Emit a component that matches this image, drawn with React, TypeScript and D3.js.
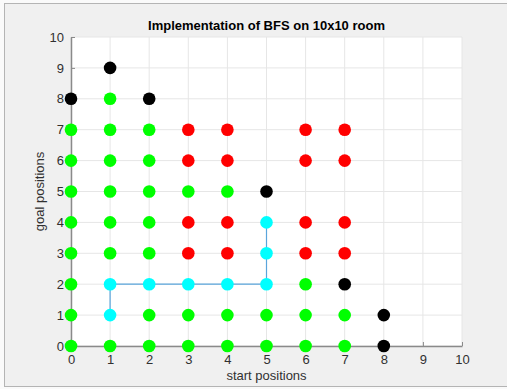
import React, { useEffect, useRef } from "react";
import * as d3 from "d3";

const W = 507;
const H = 389;
const margin = { left: 71, right: 45, top: 37, bottom: 43 };

// grid states: [start, goal]
const greenPoints: [number, number][] = [
  [0, 0], [0, 1], [0, 2], [0, 3], [0, 4], [0, 5], [0, 6], [0, 7],
  [1, 0], [1, 3], [1, 4], [1, 5], [1, 6], [1, 7], [1, 8],
  [2, 0], [2, 1], [2, 3], [2, 4], [2, 5], [2, 6], [2, 7],
  [3, 0], [3, 1], [3, 5],
  [4, 0], [4, 1], [4, 5],
  [5, 0], [5, 1],
  [6, 0], [6, 1], [6, 2],
  [7, 0], [7, 1],
];
const redPoints: [number, number][] = [
  [3, 3], [3, 4], [3, 6], [3, 7],
  [4, 3], [4, 4], [4, 6], [4, 7],
  [6, 3], [6, 4], [6, 6], [6, 7],
  [7, 3], [7, 4], [7, 6], [7, 7],
];
const blackPoints: [number, number][] = [
  [0, 8], [1, 9], [2, 8], [5, 5], [7, 2], [8, 0], [8, 1],
];
const pathPoints: [number, number][] = [
  [1, 1], [1, 2], [2, 2], [3, 2], [4, 2], [5, 2], [5, 3], [5, 4],
];
const ticks = [0, 1, 2, 3, 4, 5, 6, 7, 8, 9, 10];

const title = "Implementation of BFS on 10x10 room";
const xLabel = "start positions";
const yLabel = "goal positions";

export default function App() {
  const ref = useRef<SVGSVGElement>(null);

  useEffect(() => {
    const svg = d3.select(ref.current);
    svg.selectAll("*").remove();

    const x = d3.scaleLinear().domain([0, 10]).range([margin.left, W - margin.right]);
    const y = d3.scaleLinear().domain([0, 10]).range([H - margin.bottom, margin.top]);

    // figure frame
    svg.append("rect").attr("width", W).attr("height", H).attr("fill", "#fafafa");
    svg.append("rect")
      .attr("x", 4.5).attr("y", 3.5).attr("width", W).attr("height", 383)
      .attr("fill", "#f0f0f0").attr("stroke", "#b4b4b4");

    // plot area
    svg.append("rect")
      .attr("x", x(0)).attr("y", y(10))
      .attr("width", x(10) - x(0)).attr("height", y(0) - y(10))
      .attr("fill", "#fff");

    const grid = svg.append("g").attr("stroke", "#e6e6e6").attr("stroke-width", 1);
    ticks.forEach(t => {
      grid.append("line").attr("x1", x(t)).attr("x2", x(t)).attr("y1", y(0)).attr("y2", y(10));
      grid.append("line").attr("x1", x(0)).attr("x2", x(10)).attr("y1", y(t)).attr("y2", y(t));
    });

    const xAxis = d3.axisBottom(x).tickValues(ticks).tickSizeInner(-4).tickSizeOuter(0).tickPadding(9);
    const yAxis = d3.axisLeft(y).tickValues(ticks).tickSizeInner(-4).tickSizeOuter(0).tickPadding(7);

    const gx = svg.append("g").attr("transform", `translate(0,${y(0)})`).call(xAxis);
    const gy = svg.append("g").attr("transform", `translate(${x(0)},0)`).call(yAxis);
    [gx, gy].forEach(g => {
      g.select(".domain").attr("stroke", "#8a8a8a").attr("stroke-width", 1.5);
      g.selectAll(".tick line").attr("stroke", "#8a8a8a");
      g.selectAll("text")
        .attr("fill", "#303030")
        .style("font-family", "'Liberation Sans', Arial, sans-serif")
        .style("font-size", "13px");
    });

    // path line
    const line = d3.line<[number, number]>().x(d => x(d[0])).y(d => y(d[1]));
    svg.append("path")
      .datum(pathPoints)
      .attr("d", line)
      .attr("fill", "none")
      .attr("stroke", "#5aa5dc")
      .attr("stroke-width", 1.2);

    const dots = (pts: [number, number][], color: string) =>
      svg.append("g")
        .selectAll("circle")
        .data(pts)
        .enter()
        .append("circle")
        .attr("cx", d => x(d[0]))
        .attr("cy", d => y(d[1]))
        .attr("r", 6.3)
        .attr("fill", color);

    dots(greenPoints, "#00ff00");
    dots(redPoints, "#ff0000");
    dots(pathPoints, "#00ffff");
    dots(blackPoints, "#000000");

    const font = "'Liberation Sans', Arial, sans-serif";
    svg.append("text")
      .attr("x", (x(0) + x(10)) / 2).attr("y", 30)
      .attr("text-anchor", "middle")
      .attr("font-family", font).attr("font-size", 13).attr("font-weight", "bold")
      .attr("fill", "#000")
      .text(title);

    svg.append("text")
      .attr("x", (x(0) + x(10)) / 2).attr("y", 380)
      .attr("text-anchor", "middle")
      .attr("font-family", font).attr("font-size", 13)
      .attr("fill", "#303030")
      .text(xLabel);

    svg.append("text")
      .attr("transform", `translate(44,${(y(0) + y(10)) / 2}) rotate(-90)`)
      .attr("text-anchor", "middle")
      .attr("font-family", font).attr("font-size", 13)
      .attr("fill", "#303030")
      .text(yLabel);
  }, []);

  return (
    <svg
      ref={ref}
      width={W}
      height={H}
      style={{ position: "absolute", left: 0, top: 0 }}
    />
  );
}
